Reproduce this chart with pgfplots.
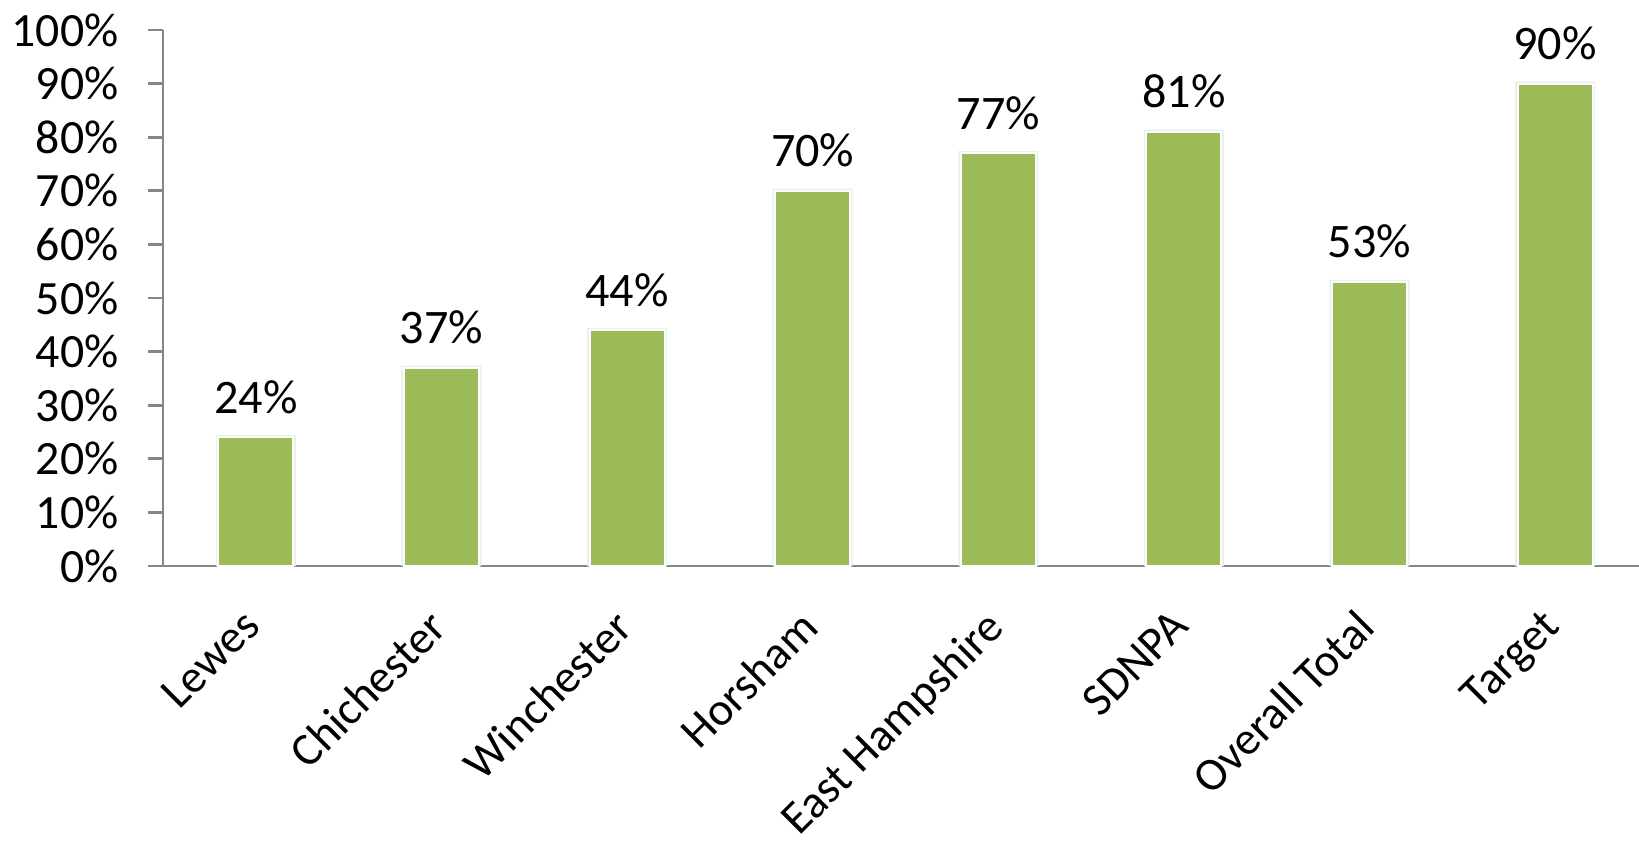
\documentclass[border=0pt]{standalone}
\usepackage{pgfplots}
\pgfplotsset{compat=1.18}
\usepackage{fontspec}
\setmainfont{Carlito}
\definecolor{bargreen}{HTML}{9BBB59}
\definecolor{axgray}{HTML}{868686}
\begin{document}
\begin{tikzpicture}
\begin{axis}[
  scale only axis,
  width=14.85cm, height=5.36cm,
  ybar, bar width=0.75cm,
  xmin=-0.5, xmax=7.5,
  ymin=0, ymax=100,
  axis x line*=bottom, axis y line*=left,
  axis line style={axgray, line width=0.8pt},
  xtick={0,1,2,3,4,5,6,7},
  xticklabels={Lewes,Chichester,Winchester,Horsham,East Hampshire,SDNPA,Overall Total,Target},
  xtick style={draw=none},
  minor xtick={-0.5,0.5,1.5,2.5,3.5,4.5,5.5,6.5,7.5},
  minor x tick style={axgray, line width=0.8pt},
  ytick={0,10,...,100},
  ytick style={axgray, line width=0.8pt},
  tick align=outside,
  major tick length=1.5mm, minor tick length=1.5mm,
  /pgf/number format/assume math mode=true,
  yticklabel={\pgfmathprintnumber{\tick}\%},
  yticklabel style={font=\fontsize{13.6}{16}\selectfont, xshift=-1.7mm},
  xticklabel style={font=\fontsize{13.2}{16}\selectfont, xshift=-1.5mm, yshift=-0.9mm, rotate=45, anchor=north east},
  clip=false,
]
\addplot[fill=black!7, draw=none, bar width=0.8cm, bar shift=0pt, forget plot] coordinates {
 (0,24.4) (1,37.4) (2,44.4) (3,70.4) (4,77.4) (5,81.4) (6,53.4) (7,90.4)};
\addplot[fill=bargreen, draw=white, line width=0.6pt, bar shift=0pt,
  nodes near coords={\pgfmathprintnumber{\pgfplotspointmeta}\%},
  nodes near coords style={font=\fontsize{13.7}{16}\selectfont, black, yshift=1.1mm}] coordinates {
 (0,24) (1,37) (2,44) (3,70) (4,77) (5,81) (6,53) (7,90)};
\end{axis}
\pgfresetboundingbox
\path[use as bounding box] ([xshift=-16.3mm,yshift=-27.6mm]current axis.south west) rectangle ([xshift=-0.9mm,yshift=3mm]current axis.north east);
\end{tikzpicture}
\end{document}
